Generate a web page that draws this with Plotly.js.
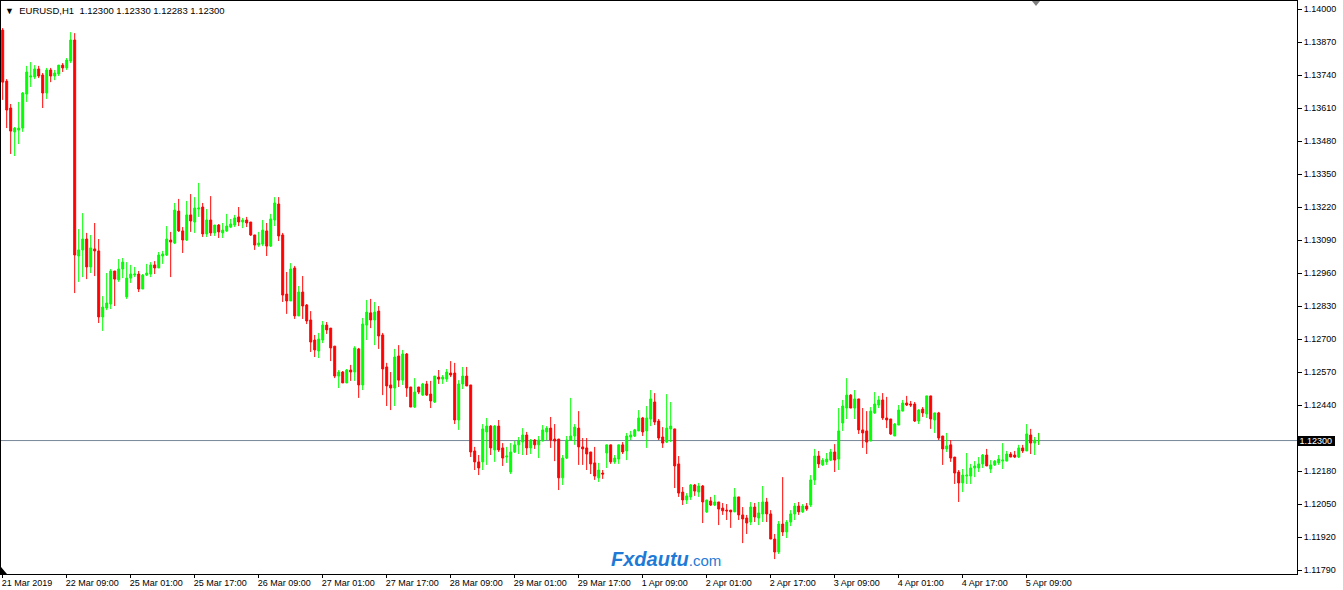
<!DOCTYPE html>
<html><head><meta charset="utf-8">
<script src="https://cdn.plot.ly/plotly-3.0.1.min.js"></script>
<style>html,body{margin:0;padding:0;background:#fff;}#chart{width:1343px;height:590px;}</style>
</head><body><div id="chart"></div>
<script>
const symbolText = "EURUSD,H1";
const lastBar = [1.12300, 1.12330, 1.12283, 1.12300];
const lastPrice = 1.12300;

const opens = [
1.13917,1.13716,1.13610,1.13516,1.13523,1.13531,1.13665,1.13732,1.13732,1.13764,1.13740,1.13669,1.13760,1.13736,1.13744,1.13779,1.13768,1.13795,1.13878,1.13027,
1.13051,1.13094,1.12984,1.13055,1.13047,1.12787,1.12822,1.12838,1.12968,1.12933,1.12976,1.12866,1.12940,1.12952,1.12956,1.12897,1.12952,1.12956,1.12992,1.12980,
1.13027,1.13031,1.13090,1.13078,1.13204,1.13126,1.13090,1.13189,1.13161,1.13212,1.13220,1.13114,1.13169,1.13118,1.13149,1.13118,1.13126,1.13141,1.13149,1.13181,
1.13161,1.13169,1.13161,1.13110,1.13070,1.13074,1.13126,1.13066,1.13169,1.13232,1.13110,1.12877,1.12850,1.12980,1.12791,1.12885,1.12834,1.12775,1.12696,1.12653,
1.12696,1.12755,1.12743,1.12672,1.12554,1.12570,1.12527,1.12578,1.12570,1.12661,1.12519,1.12755,1.12803,1.12775,1.12810,1.12716,1.12590,1.12519,1.12507,1.12633,
1.12538,1.12641,1.12511,1.12432,1.12511,1.12479,1.12523,1.12483,1.12452,1.12550,1.12542,1.12542,1.12566,1.12566,1.12381,1.12523,1.12554,1.12519,1.12259,1.12216,
1.12216,1.12334,1.12357,1.12263,1.12357,1.12271,1.12235,1.12176,1.12255,1.12283,1.12294,1.12322,1.12271,1.12302,1.12283,1.12298,1.12334,1.12349,1.12306,1.12306,
1.12153,1.12231,1.12302,1.12318,1.12349,1.12275,1.12271,1.12255,1.12212,1.12153,1.12172,1.12251,1.12283,1.12216,1.12227,1.12283,1.12259,1.12314,1.12318,1.12338,
1.12389,1.12338,1.12385,1.12452,1.12377,1.12314,1.12294,1.12346,1.12346,1.12208,1.12097,1.12066,1.12078,1.12125,1.12097,1.12121,1.12019,1.12062,1.12046,1.12058,
1.12034,1.12026,1.12026,1.12019,1.12078,1.12007,1.11995,1.11979,1.12038,1.11995,1.12011,1.12058,1.12011,1.11912,1.11861,1.11971,1.11940,1.11979,1.12011,1.12042,
1.12019,1.12042,1.12046,1.12145,1.12239,1.12204,1.12216,1.12223,1.12255,1.12227,1.12369,1.12428,1.12479,1.12428,1.12464,1.12342,1.12338,1.12298,1.12409,1.12440,
1.12460,1.12389,1.12385,1.12318,1.12361,1.12416,1.12448,1.12444,1.12444,1.12377,1.12424,1.12405,1.12476,1.12381,1.12409,1.12318,1.12267,1.12283,1.12235,1.12176,
1.12133,1.12160,1.12160,1.12192,1.12192,1.12208,1.12243,1.12188,1.12204,1.12212,1.12219,1.12219,1.12247,1.12243,1.12235,1.12271,1.12259,1.12322,1.12290,1.12300
];
const highs = [
1.13925,1.13724,1.13626,1.13535,1.13634,1.13673,1.13776,1.13791,1.13779,1.13776,1.13748,1.13768,1.13768,1.13760,1.13779,1.13787,1.13807,1.13909,1.13905,1.13133,
1.13196,1.13118,1.13110,1.13157,1.13094,1.12869,1.12960,1.12976,1.12968,1.13015,1.13019,1.13003,1.12992,1.12984,1.12968,1.12956,1.12996,1.13003,1.13007,1.13043,
1.13047,1.13145,1.13122,1.13236,1.13252,1.13141,1.13244,1.13271,1.13259,1.13315,1.13236,1.13212,1.13263,1.13149,1.13153,1.13157,1.13193,1.13173,1.13189,1.13220,
1.13177,1.13181,1.13161,1.13110,1.13122,1.13169,1.13157,1.13193,1.13259,1.13259,1.13118,1.12964,1.12999,1.12988,1.12909,1.12948,1.12838,1.12810,1.12716,1.12724,
1.12771,1.12767,1.12743,1.12672,1.12578,1.12574,1.12582,1.12598,1.12672,1.12665,1.12783,1.12854,1.12858,1.12846,1.12830,1.12724,1.12606,1.12570,1.12661,1.12676,
1.12657,1.12645,1.12511,1.12546,1.12511,1.12527,1.12535,1.12535,1.12554,1.12578,1.12558,1.12582,1.12613,1.12606,1.12538,1.12590,1.12590,1.12519,1.12275,1.12243,
1.12365,1.12389,1.12361,1.12361,1.12381,1.12290,1.12275,1.12290,1.12298,1.12314,1.12349,1.12334,1.12306,1.12306,1.12318,1.12361,1.12357,1.12393,1.12365,1.12306,
1.12243,1.12318,1.12468,1.12365,1.12416,1.12310,1.12310,1.12255,1.12275,1.12212,1.12184,1.12283,1.12283,1.12243,1.12283,1.12294,1.12330,1.12338,1.12346,1.12420,
1.12393,1.12436,1.12499,1.12487,1.12385,1.12353,1.12483,1.12452,1.12346,1.12239,1.12117,1.12093,1.12129,1.12129,1.12133,1.12125,1.12066,1.12078,1.12086,1.12058,
1.12054,1.12050,1.12026,1.12113,1.12078,1.12038,1.12007,1.12058,1.12054,1.12058,1.12121,1.12074,1.12026,1.11932,1.11983,1.12156,1.11987,1.12026,1.12054,1.12058,
1.12050,1.12054,1.12164,1.12267,1.12259,1.12231,1.12251,1.12267,1.12286,1.12428,1.12460,1.12546,1.12483,1.12499,1.12464,1.12428,1.12416,1.12432,1.12491,1.12476,
1.12487,1.12472,1.12385,1.12369,1.12440,1.12460,1.12476,1.12456,1.12452,1.12424,1.12432,1.12476,1.12476,1.12409,1.12413,1.12318,1.12330,1.12302,1.12235,1.12184,
1.12188,1.12251,1.12208,1.12219,1.12235,1.12247,1.12267,1.12223,1.12223,1.12243,1.12290,1.12259,1.12255,1.12259,1.12283,1.12283,1.12365,1.12346,1.12314,1.12330
];
const lows = [
1.13642,1.13531,1.13429,1.13421,1.13468,1.13516,1.13634,1.13693,1.13724,1.13728,1.13610,1.13646,1.13712,1.13720,1.13736,1.13752,1.13760,1.13787,1.12881,1.12925,
1.12944,1.12936,1.12960,1.12948,1.12763,1.12732,1.12814,1.12818,1.12830,1.12925,1.12940,1.12858,1.12921,1.12944,1.12885,1.12897,1.12948,1.12944,1.12956,1.12980,
1.12996,1.13027,1.12944,1.13074,1.13122,1.13039,1.13086,1.13122,1.13118,1.13181,1.13102,1.13102,1.13106,1.13106,1.13098,1.13098,1.13122,1.13137,1.13141,1.13145,
1.13137,1.13141,1.13106,1.13051,1.13063,1.13066,1.13027,1.13063,1.13145,1.13086,1.12846,1.12799,1.12850,1.12779,1.12791,1.12779,1.12759,1.12649,1.12629,1.12625,
1.12684,1.12720,1.12613,1.12546,1.12507,1.12527,1.12527,1.12535,1.12535,1.12468,1.12499,1.12696,1.12743,1.12676,1.12661,1.12479,1.12436,1.12420,1.12436,1.12511,
1.12519,1.12472,1.12432,1.12428,1.12483,1.12476,1.12476,1.12428,1.12448,1.12523,1.12523,1.12531,1.12550,1.12365,1.12342,1.12503,1.12515,1.12235,1.12184,1.12164,
1.12184,1.12204,1.12243,1.12216,1.12255,1.12200,1.12212,1.12168,1.12251,1.12247,1.12243,1.12243,1.12247,1.12267,1.12231,1.12298,1.12302,1.12271,1.12219,1.12105,
1.12125,1.12227,1.12298,1.12283,1.12204,1.12204,1.12184,1.12168,1.12145,1.12137,1.12149,1.12192,1.12208,1.12208,1.12208,1.12247,1.12223,1.12302,1.12314,1.12338,
1.12318,1.12271,1.12357,1.12361,1.12302,1.12271,1.12290,1.12294,1.12113,1.12078,1.12046,1.12050,1.12066,1.12082,1.12078,1.11975,1.12015,1.12042,1.12042,1.11967,
1.12007,1.11987,1.11956,1.12019,1.11987,1.11896,1.11932,1.11967,1.11979,1.11967,1.11979,1.11979,1.11912,1.11833,1.11853,1.11924,1.11916,1.11963,1.11987,1.12007,
1.12015,1.12023,1.12038,1.12125,1.12192,1.12200,1.12204,1.12219,1.12176,1.12184,1.12338,1.12385,1.12428,1.12385,1.12326,1.12271,1.12247,1.12298,1.12405,1.12428,
1.12381,1.12349,1.12322,1.12318,1.12361,1.12416,1.12436,1.12432,1.12373,1.12365,1.12393,1.12389,1.12346,1.12330,1.12302,1.12204,1.12255,1.12216,1.12129,1.12058,
1.12097,1.12129,1.12129,1.12156,1.12176,1.12192,1.12200,1.12172,1.12200,1.12204,1.12188,1.12219,1.12235,1.12231,1.12231,1.12251,1.12259,1.12247,1.12243,1.12283
];
const closes = [
1.13712,1.13602,1.13519,1.13531,1.13531,1.13669,1.13752,1.13736,1.13764,1.13736,1.13669,1.13760,1.13736,1.13748,1.13779,1.13768,1.13799,1.13878,1.13031,1.13051,
1.13094,1.12984,1.13059,1.13047,1.12787,1.12826,1.12842,1.12968,1.12936,1.12976,1.13003,1.12940,1.12956,1.12956,1.12897,1.12952,1.12960,1.12992,1.12980,1.13031,
1.13035,1.13094,1.13082,1.13208,1.13126,1.13090,1.13189,1.13165,1.13216,1.13216,1.13114,1.13169,1.13118,1.13149,1.13122,1.13129,1.13145,1.13153,1.13177,1.13161,
1.13169,1.13157,1.13110,1.13070,1.13078,1.13129,1.13066,1.13173,1.13236,1.13106,1.12873,1.12850,1.12976,1.12791,1.12885,1.12830,1.12771,1.12688,1.12657,1.12700,
1.12755,1.12736,1.12665,1.12554,1.12570,1.12527,1.12578,1.12570,1.12665,1.12519,1.12759,1.12806,1.12775,1.12806,1.12712,1.12582,1.12515,1.12507,1.12629,1.12538,
1.12641,1.12507,1.12432,1.12491,1.12491,1.12523,1.12479,1.12456,1.12554,1.12542,1.12550,1.12570,1.12558,1.12381,1.12523,1.12554,1.12515,1.12255,1.12216,1.12192,
1.12346,1.12357,1.12271,1.12357,1.12263,1.12231,1.12239,1.12255,1.12283,1.12298,1.12322,1.12271,1.12302,1.12283,1.12302,1.12342,1.12349,1.12302,1.12298,1.12153,
1.12231,1.12302,1.12318,1.12353,1.12275,1.12267,1.12247,1.12208,1.12160,1.12184,1.12168,1.12283,1.12216,1.12231,1.12283,1.12255,1.12318,1.12322,1.12342,1.12389,
1.12334,1.12389,1.12464,1.12373,1.12310,1.12290,1.12349,1.12357,1.12200,1.12093,1.12066,1.12082,1.12125,1.12101,1.12121,1.12058,1.12066,1.12046,1.12058,1.12030,
1.12023,1.12023,1.12019,1.12078,1.12007,1.11991,1.11975,1.12038,1.11999,1.12015,1.12058,1.12011,1.11912,1.11861,1.11971,1.11940,1.11979,1.12011,1.12042,1.12019,
1.12042,1.12030,1.12145,1.12239,1.12208,1.12223,1.12227,1.12255,1.12223,1.12338,1.12436,1.12479,1.12428,1.12464,1.12342,1.12330,1.12294,1.12416,1.12444,1.12460,
1.12389,1.12381,1.12326,1.12365,1.12420,1.12448,1.12440,1.12440,1.12377,1.12420,1.12409,1.12476,1.12385,1.12409,1.12310,1.12267,1.12279,1.12231,1.12172,1.12133,
1.12164,1.12164,1.12192,1.12200,1.12208,1.12243,1.12200,1.12204,1.12219,1.12227,1.12223,1.12247,1.12235,1.12235,1.12271,1.12259,1.12326,1.12290,1.12302,1.12300
];

const timeLabels = ["21 Mar 2019","22 Mar 09:00","25 Mar 01:00","25 Mar 17:00","26 Mar 09:00","27 Mar 01:00","27 Mar 17:00","28 Mar 09:00","29 Mar 01:00","29 Mar 17:00","1 Apr 09:00","2 Apr 01:00","2 Apr 17:00","3 Apr 09:00","4 Apr 01:00","4 Apr 17:00","5 Apr 09:00"];
const barsPerLabel = 16;
const priceTicks = [1.14000,1.13870,1.13740,1.13610,1.13480,1.13350,1.13220,1.13090,1.12960,1.12830,1.12700,1.12570,1.12440,1.12180,1.12050,1.11920,1.11790];

const idx = opens.map((_, i) => i);
const tickIdx = timeLabels.map((_, k) => k * barsPerLabel);
const FONT = 'Liberation Sans, Arial, sans-serif';
const nb = '\u00a0';
const BULL = '#00ff00', BEAR = '#ff0000';

const trace = {
  type: 'candlestick', x: idx, open: opens, high: highs, low: lows, close: closes,
  increasing: {line: {color: BULL, width: 1}, fillcolor: BULL},
  decreasing: {line: {color: BEAR, width: 1}, fillcolor: BEAR},
  whiskerwidth: 0, hoverinfo: 'skip', showlegend: false
};
// doji bars (open == close) are drawn in the bull colour, as in the terminal
const doji = idx.filter(i => opens[i] === closes[i]);
const dojiTrace = {
  type: 'candlestick', x: doji, open: doji.map(i => opens[i]), high: doji.map(i => highs[i]),
  low: doji.map(i => lows[i]), close: doji.map(i => closes[i]),
  increasing: {line: {color: BULL, width: 1}, fillcolor: BULL},
  decreasing: {line: {color: BULL, width: 1}, fillcolor: BULL},
  whiskerwidth: 0, hoverinfo: 'skip', showlegend: false
};

const layout = {
  width: 1343, height: 590,
  margin: {l: 1, r: 46, t: 1, b: 16, pad: 0},
  paper_bgcolor: '#ffffff', plot_bgcolor: '#ffffff',
  showlegend: false,
  font: {family: FONT, size: 9, color: '#000'},
  xaxis: {
    range: [-0.425, 323.575], tickmode: 'array', tickvals: tickIdx, ticktext: timeLabels,
    ticks: 'outside', ticklen: 3, tickcolor: '#000', tickwidth: 1,
    ticklabelposition: 'outside right', ticklabelshift: -2,
    showgrid: false, zeroline: false, showline: true, linecolor: '#000', linewidth: 1, mirror: true,
    rangeslider: {visible: false}, fixedrange: true, tickfont: {family: FONT, size: 9, color: '#000'}
  },
  yaxis: {
    side: 'right', range: [1.117743, 1.140316], tickmode: 'array', tickvals: priceTicks,
    ticktext: priceTicks.map(v => v.toFixed(5)),
    ticks: 'outside', ticklen: 4, tickcolor: '#000', tickwidth: 1,
    showgrid: false, zeroline: false, showline: true, linecolor: '#000', linewidth: 1, mirror: true,
    fixedrange: true, tickfont: {family: FONT, size: 9, color: '#000'}
  },
  shapes: [
    {type: 'line', layer: 'below', xref: 'paper', x0: 0, x1: 1, yref: 'y', y0: lastPrice, y1: lastPrice,
     line: {color: '#778899', width: 1}},
    {type: 'path', xref: 'paper', yref: 'paper', path: 'M0.7955,1 L0.8017,1 L0.7986,0.9913 Z',
     fillcolor: '#7f7f7f', line: {width: 0}},
    {type: 'path', xref: 'paper', yref: 'paper', path: 'M0,0.0122 L0.0046,0 L0,0 Z',
     fillcolor: '#000', line: {width: 0}}
  ],
  annotations: [
    {xref: 'paper', yref: 'paper', x: 0, y: 1, xanchor: 'left', yanchor: 'top', xshift: 2, yshift: -2,
     showarrow: false, align: 'left', font: {family: FONT, size: 9.5, color: '#000'},
     text: '<span style="font-size:9px">▼</span>' + nb + nb + symbolText + nb + nb + lastBar.map(v => v.toFixed(5)).join(nb)},
    {xref: 'paper', yref: 'y', x: 1, y: lastPrice, xanchor: 'left', yanchor: 'middle', xshift: 0,
     showarrow: false, bgcolor: '#000', borderpad: 0, borderwidth: 0,
     font: {family: FONT, size: 9, color: '#fff'}, text: nb + lastPrice.toFixed(5) + nb},
    {xref: 'paper', yref: 'paper', x: 0.513, y: 0.004, xanchor: 'center', yanchor: 'bottom',
     showarrow: false, font: {family: FONT, size: 20, color: '#1f7ad6'},
     text: '<b><i>Fxdautu</i></b><span style="font-size:15px">.com</span>'}
  ]
};

Plotly.newPlot('chart', [trace, dojiTrace], layout, {displayModeBar: false, staticPlot: true});
</script>
</body></html>
